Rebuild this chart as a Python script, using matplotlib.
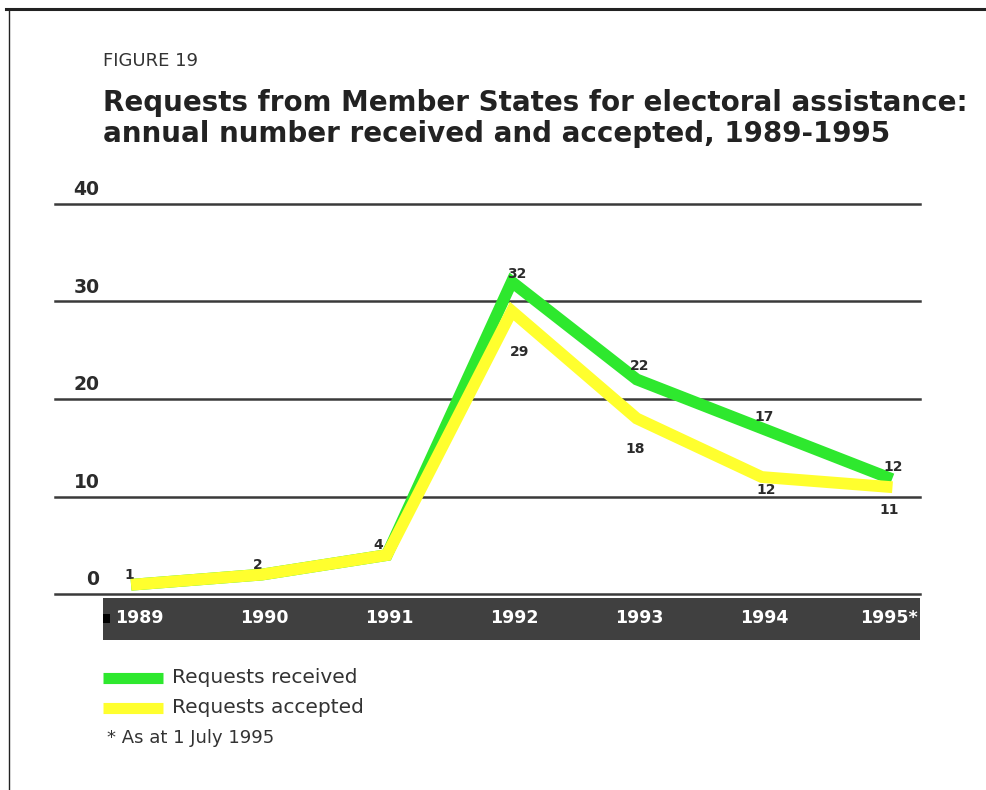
import matplotlib.pyplot as plt
from matplotlib.patches import Rectangle

# data
years = [1989, 1990, 1991, 1992, 1993, 1994, 1995]
year_labels = ['1989', '1990', '1991', '1992', '1993', '1994', '1995*']
received = [1, 2, 4, 32, 22, 17, 12]
accepted = [1, 2, 4, 29, 18, 12, 11]
yticks = [0, 10, 20, 30, 40]

green = '#2ee82e'
yellow = '#ffff2e'
ink = '#2b2b2b'

fig = plt.figure(figsize=(9.87, 7.9), dpi=100)
fig.patch.set_facecolor('white')

# page border (top and left)
fig.add_artist(plt.Line2D([0.006, 1.0], [0.989, 0.989], color='#222222', lw=2.2))
fig.add_artist(plt.Line2D([0.0095, 0.0095], [0.0, 0.989], color='#222222', lw=1.0))

ax = fig.add_axes([0.0557, 0.248, 0.876, 0.494])
ax.set_xlim(1988.344, 1995.264)
ax.set_ylim(0, 40)
for s in ax.spines.values():
    s.set_visible(False)
ax.set_xticks([])
ax.set_yticks([])

for v in yticks:
    ax.axhline(v, color='#3a3a3a', lw=1.8, zorder=1, clip_on=False)
    ax.text(1988.70, v + 0.5, str(v), fontsize=13.5, fontweight='bold',
            color=ink, ha='right', va='bottom')

ax.plot(years, received, color=green, lw=8.5, solid_joinstyle='miter', zorder=3)
ax.plot(years, accepted, color=yellow, lw=8.5, solid_joinstyle='miter', zorder=4)

# value labels (offsets from the point, in data units)
rec_dx = [0, 0, 0, 0.04, 0.02, 0.02, 0.05]
rec_dy = [None, None, None, 0.8, 1.4, 1.1, 1.0]
acc_dx = [-0.06, -0.03, -0.07, 0.06, -0.01, 0.04, 0.02]
acc_dy = [0.95, 0.97, 1.0, -4.2, -3.1, -1.3, -2.4]
for x, v, dx, dy in zip(years, received, rec_dx, rec_dy):
    if dy is not None:
        ax.text(x + dx, v + dy, str(v), fontsize=10, fontweight='bold',
                color=ink, ha='center', va='center')
for x, v, dx, dy in zip(years, accepted, acc_dx, acc_dy):
    ax.text(x + dx, v + dy, str(v), fontsize=10, fontweight='bold',
            color=ink, ha='center', va='center')

# dark band with year labels
band = Rectangle((1988.728, -4.7), 1995.264 - 1988.728, 4.3, facecolor='#404040',
                 edgecolor='none', clip_on=False, transform=ax.transData)
ax.add_patch(band)
ax.add_patch(Rectangle((1988.728, -3.0), 0.055, 1.0, facecolor='black',
                       edgecolor='none', clip_on=False, zorder=5))
for x, lab in zip(years, year_labels):
    ax.text(x + 0.02, -2.5, lab, fontsize=12.5,
            fontweight='bold', color='white', ha='center', va='center', clip_on=False)

# titles
fig.text(0.104, 0.923, 'FIGURE 19', fontsize=13, color='#333333', ha='left', va='center')
fig.text(0.104, 0.869, 'Requests from Member States for electoral assistance:',
         fontsize=20, fontweight='bold', color='#222222', ha='left', va='center')
fig.text(0.104, 0.831, 'annual number received and accepted, 1989-1995',
         fontsize=20, fontweight='bold', color='#222222', ha='left', va='center')

# legend
fig.add_artist(plt.Line2D([0.104, 0.165], [0.142, 0.142], color=green, lw=8,
                          solid_capstyle='butt'))
fig.add_artist(plt.Line2D([0.104, 0.165], [0.104, 0.104], color=yellow, lw=8,
                          solid_capstyle='butt'))
fig.text(0.174, 0.142, 'Requests received', fontsize=14.5, color='#333333', va='center')
fig.text(0.174, 0.104, 'Requests accepted', fontsize=14.5, color='#333333', va='center')
fig.text(0.108, 0.066, '* As at 1 July 1995', fontsize=13, color='#333333', va='center')

fig.savefig('out.png', dpi=100)
